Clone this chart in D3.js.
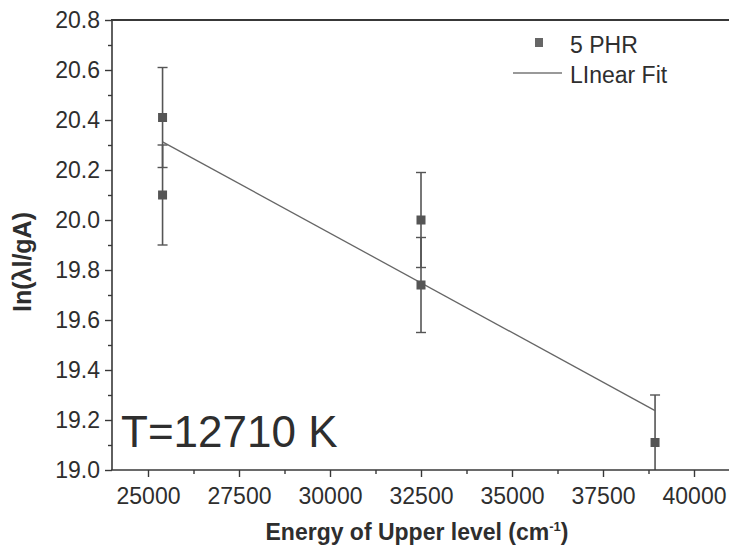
<!DOCTYPE html>
<html>
<head>
<meta charset="utf-8">
<script src="https://cdn.jsdelivr.net/npm/d3@7"></script>
<style>
  body { margin: 0; background: #fff; }
  svg { display: block; font-family: "Liberation Sans", Arial, sans-serif; }
</style>
</head>
<body>
<svg id="chart" width="729" height="548"></svg>
<script>
// Boltzmann plot data: upper-level energy (cm^-1) vs ln(λI/gA)
const energies = [25400, 25400, 32500, 32500, 38930];
const lnValues = [20.41, 20.10, 20.00, 19.74, 19.11];
const errors   = [0.20, 0.20, 0.19, 0.19, 0.19];
const xTicks = [25000, 27500, 30000, 32500, 35000, 37500, 40000];
const yTicks = [19.0, 19.2, 19.4, 19.6, 19.8, 20.0, 20.2, 20.4, 20.6, 20.8];
const seriesName = "5 PHR";
const fitName = "LInear Fit";
const temperatureLabel = "T=12710 K";

const W = 729, H = 548;
const plotLeft = 112, plotTop = 20, plotBottom = 470;
const svg = d3.select("#chart");

const x = d3.scaleLinear().domain([25000, 40000]).range([148, 694]);
const y = d3.scaleLinear().domain([19.0, 20.8]).range([plotBottom, plotTop]);

const ink = "#2e2e2e";
const axisInk = "#383838";

// clip region for the plotting area
svg.append("clipPath").attr("id", "plotClip")
  .append("rect").attr("x", plotLeft).attr("y", plotTop)
  .attr("width", W - plotLeft).attr("height", plotBottom - plotTop);

// least-squares linear fit
const mx = d3.mean(energies), my = d3.mean(lnValues);
const sxy = d3.sum(energies, (e, i) => (e - mx) * (lnValues[i] - my));
const sxx = d3.sum(energies, e => (e - mx) ** 2);
const slope = sxy / sxx, intercept = my - slope * mx;
const xMin = d3.min(energies), xMax = d3.max(energies);

const plot = svg.append("g").attr("clip-path", "url(#plotClip)");

// error bars
const capW = 5;
energies.forEach((e, i) => {
  const cx = x(e), yt = y(lnValues[i] + errors[i]), yb = y(lnValues[i] - errors[i]);
  plot.append("line").attr("x1", cx).attr("x2", cx).attr("y1", yt).attr("y2", yb)
    .attr("stroke", "#555").attr("stroke-width", 1.6);
  [yt, yb].forEach(yy => plot.append("line")
    .attr("x1", cx - capW).attr("x2", cx + capW).attr("y1", yy).attr("y2", yy)
    .attr("stroke", "#555").attr("stroke-width", 1.4));
});

// fit line
plot.append("line")
  .attr("x1", x(xMin)).attr("y1", y(intercept + slope * xMin))
  .attr("x2", x(xMax)).attr("y2", y(intercept + slope * xMax))
  .attr("stroke", "#666").attr("stroke-width", 1.3);

// markers
const sq = 9;
plot.selectAll("rect.pt").data(energies).join("rect").attr("class", "pt")
  .attr("x", d => x(d) - sq / 2)
  .attr("y", (d, i) => y(lnValues[i]) - sq / 2)
  .attr("width", sq).attr("height", sq)
  .attr("fill", "#555");

// axes
const xAxis = d3.axisBottom(x).tickValues(xTicks).tickSize(7).tickPadding(11).tickFormat(d3.format("d"));
const xMinor = d3.axisBottom(x).tickValues(d3.range(26250, 41000, 2500)).tickSize(4).tickFormat("");
const yAxis = d3.axisLeft(y).tickValues(yTicks).tickSize(7).tickPadding(5).tickFormat(d3.format(".1f"));
const yMinor = d3.axisLeft(y).tickValues(d3.range(19.1, 20.8, 0.2)).tickSize(4).tickFormat("");

function styleAxis(g) {
  g.select(".domain").remove();
  g.selectAll("line").attr("stroke", axisInk).attr("stroke-width", 1.4);
  g.selectAll("text").attr("fill", ink).style("font-size", "23px");
}

svg.append("g").attr("transform", `translate(0,${plotBottom})`).call(xAxis).call(styleAxis);
svg.append("g").attr("transform", `translate(0,${plotBottom})`).call(xMinor).call(styleAxis);
svg.append("g").attr("transform", `translate(${plotLeft},0)`).call(yAxis).call(styleAxis);
svg.append("g").attr("transform", `translate(${plotLeft},0)`).call(yMinor).call(styleAxis);

// frame lines
svg.append("line").attr("x1", plotLeft).attr("x2", plotLeft).attr("y1", plotTop).attr("y2", plotBottom)
  .attr("stroke", axisInk).attr("stroke-width", 1.6);
svg.append("line").attr("x1", plotLeft - 1).attr("x2", W).attr("y1", plotBottom).attr("y2", plotBottom)
  .attr("stroke", axisInk).attr("stroke-width", 1.6);
svg.append("line").attr("x1", plotLeft - 1).attr("x2", W).attr("y1", plotTop).attr("y2", plotTop)
  .attr("stroke", axisInk).attr("stroke-width", 2);

// axis titles
svg.append("text").attr("x", 417).attr("y", 540).attr("text-anchor", "middle")
  .attr("fill", ink).style("font-size", "23px").style("font-weight", "bold")
  .html('Energy of Upper level (cm<tspan dy="-9" font-size="13">-1</tspan><tspan dy="9">)</tspan>');

svg.append("text").attr("transform", "translate(31,262) rotate(-90)").attr("text-anchor", "middle")
  .attr("fill", ink).style("font-size", "25px").style("font-weight", "bold")
  .text("In(λl/gA)");

// temperature annotation
svg.append("text").attr("x", 121).attr("y", 447)
  .attr("fill", ink).style("font-size", "44px")
  .text(temperatureLabel);

// legend
const lg = svg.append("g");
lg.append("rect").attr("x", 535).attr("y", 38).attr("width", 8).attr("height", 9).attr("fill", "#666");
lg.append("text").attr("x", 570).attr("y", 53).attr("fill", ink).style("font-size", "23px").text(seriesName);
lg.append("line").attr("x1", 513).attr("x2", 562).attr("y1", 73).attr("y2", 73).attr("stroke", "#777").attr("stroke-width", 1.3);
lg.append("text").attr("x", 570).attr("y", 83).attr("fill", ink).style("font-size", "23px").text(fitName);
</script>
</body>
</html>
